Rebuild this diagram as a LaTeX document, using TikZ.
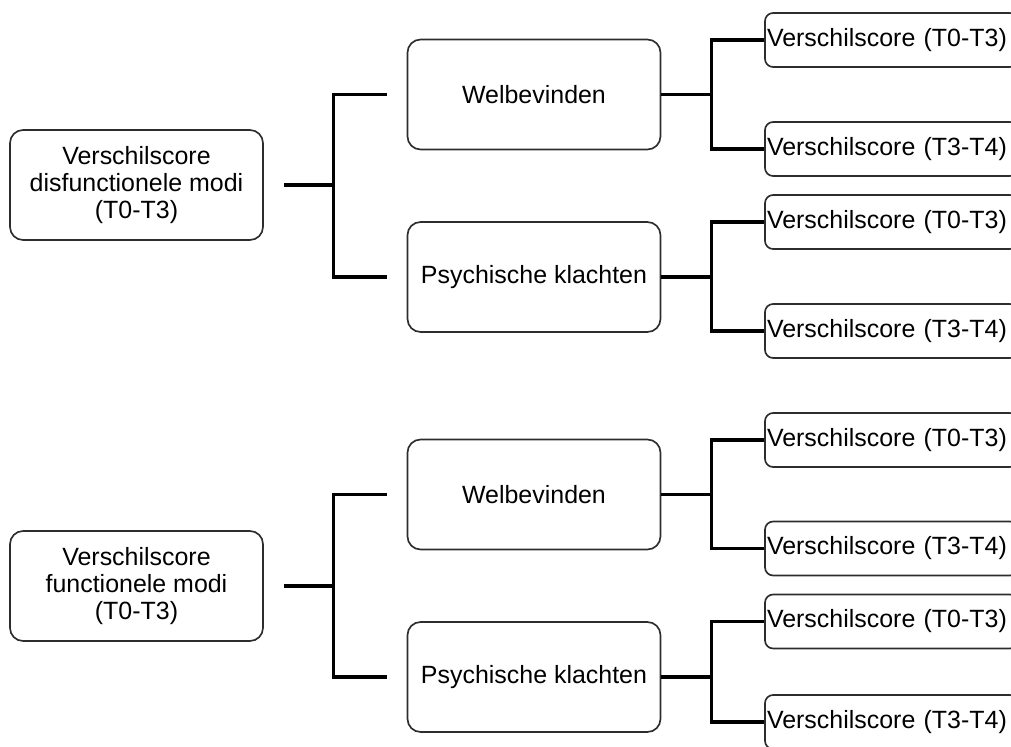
\documentclass[tikz,border=0pt]{standalone}
\usepackage{fontspec}
\setmainfont{Liberation Sans}
\begin{document}
\begin{tikzpicture}[x=0.02cm,y=-0.02cm]
	\tikzstyle{every node}=[font=\fontsize{14.2}{15.4}\selectfont]
	\tikzstyle{bigbox}=[draw={rgb,255:red,45; green,45; blue,45}, line width=0.95pt, rounded corners=0.26cm, minimum width=5.06cm, minimum height=2.2cm, inner sep=0pt, align=center]
	\tikzstyle{scorebox}=[draw={rgb,255:red,45; green,45; blue,45}, line width=0.95pt, rounded corners=0.16cm, minimum height=1.08cm, text width=4.98cm, inner xsep=0.04cm, inner ysep=0pt, align=left]
	\tikzstyle{conn}=[line width=1.9pt, black]
	\useasboundingbox (0,0) rectangle (1011,747);
	\clip (0,0) rectangle (1011,747);
	% bovenste boom
	\node [bigbox] (disf) at (136.5,185) {Verschilscore\\disfunctionele modi\\(T0-T3)};
	\node [bigbox] (welA) at (534,94.5) {Welbevinden};
	\node [bigbox] (psyA) at (534,277) {Psychische klachten};
	\node [scorebox] (welA1) at (891.5,40) {Verschilscore (T0-T3)};
	\node [scorebox] (welA2) at (891.5,149) {Verschilscore (T3-T4)};
	\node [scorebox] (psyA1) at (891.5,222) {Verschilscore (T0-T3)};
	\node [scorebox] (psyA2) at (891.5,331) {Verschilscore (T3-T4)};
	\draw [conn, shorten <=0.4cm, shorten >=0.4cm] (disf.east) -- ++(70,0) |- (welA.west);
	\draw [conn, shorten <=0.4cm, shorten >=0.4cm] (disf.east) -- ++(70,0) |- (psyA.west);
	\draw [conn] (welA.east) -- ++(50,0) |- (welA1.west);
	\draw [conn] (welA.east) -- ++(50,0) |- (welA2.west);
	\draw [conn] (psyA.east) -- ++(50,0) |- (psyA1.west);
	\draw [conn] (psyA.east) -- ++(50,0) |- (psyA2.west);
	% onderste boom
	\node [bigbox] (func) at (136.5,586) {Verschilscore\\functionele modi\\(T0-T3)};
	\node [bigbox] (welB) at (534,494.5) {Welbevinden};
	\node [bigbox] (psyB) at (534,677) {Psychische klachten};
	\node [scorebox] (welB1) at (891.5,440) {Verschilscore (T0-T3)};
	\node [scorebox] (welB2) at (891.5,548.5) {Verschilscore (T3-T4)};
	\node [scorebox] (psyB1) at (891.5,621.5) {Verschilscore (T0-T3)};
	\node [scorebox] (psyB2) at (891.5,722) {Verschilscore (T3-T4)};
	\draw [conn, shorten <=0.4cm, shorten >=0.4cm] (func.east) -- ++(70,0) |- (welB.west);
	\draw [conn, shorten <=0.4cm, shorten >=0.4cm] (func.east) -- ++(70,0) |- (psyB.west);
	\draw [conn] (welB.east) -- ++(50,0) |- (welB1.west);
	\draw [conn] (welB.east) -- ++(50,0) |- (welB2.west);
	\draw [conn] (psyB.east) -- ++(50,0) |- (psyB1.west);
	\draw [conn] (psyB.east) -- ++(50,0) |- (psyB2.west);
\end{tikzpicture}
\end{document}
